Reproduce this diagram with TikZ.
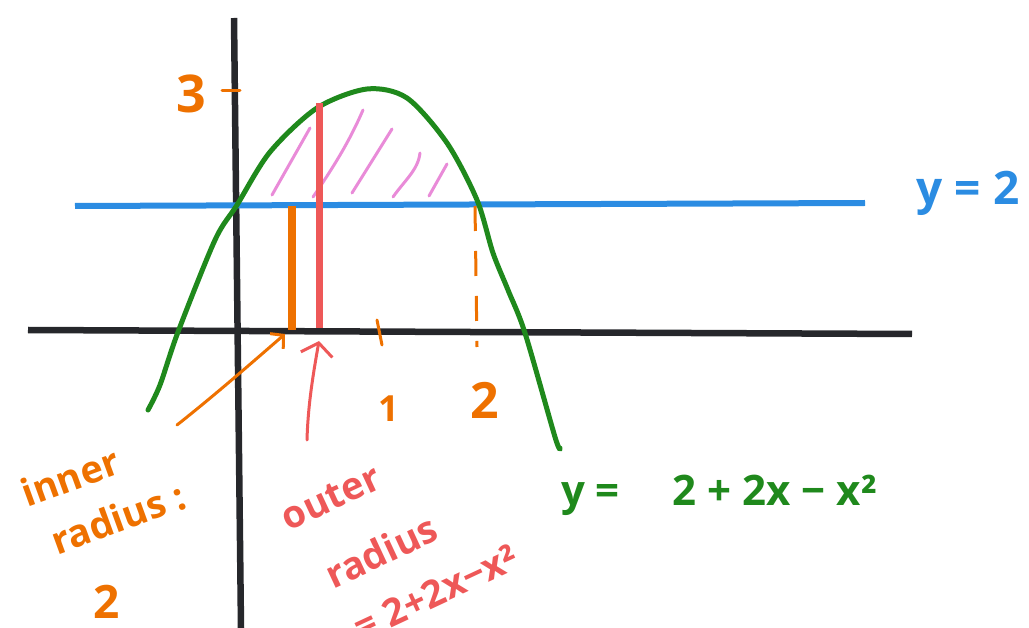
\documentclass[tikz,border=0pt]{standalone}
\usepackage{fontspec}
\setmainfont{Open Sans}
\usetikzlibrary{arrows.meta}
\definecolor{axisc}{HTML}{26272B}
\definecolor{bluec}{HTML}{2B8CE2}
\definecolor{greenc}{HTML}{1F891C}
\definecolor{orangec}{HTML}{EE7100}
\definecolor{redc}{HTML}{EE5858}
\definecolor{pinkc}{HTML}{E98BD8}
\tikzset{
  axisline/.style={draw=axisc,line width=6.5pt},
  hatchline/.style={draw=pinkc,line width=3pt,line cap=round},
  txt/.style={inner sep=0pt,font=\fontsize{38}{42}\selectfont\bfseries},
  otxt/.style={txt,text=orangec},
  rtxt/.style={txt,text=redc},
}
\begin{document}
\begin{tikzpicture}[x=1pt,y=-1pt]
\useasboundingbox (0,0) rectangle (1029,628);
% axes
\coordinate (yt) at (234,18);
\coordinate (yb) at (241,628);
\coordinate (xl) at (28,330);
\coordinate (xr) at (912,334);
\draw[axisline] (yt) -- (yb);
\draw[axisline] (xl) -- (xr);
% hatching
\draw[hatchline] (272,195) -- (310,128);
\draw[hatchline] (313,197) .. controls (335,165) and (350,140) .. (363,110);
\draw[hatchline] (352,193) -- (392,129);
\draw[hatchline] (393,197) .. controls (405,180) and (418,170) .. (420,153);
\draw[hatchline] (429,196) -- (447,164);
% line y=2
\coordinate (bl) at (75,206);
\coordinate (br) at (865,203);
\draw[draw=bluec,line width=6pt] (bl) -- (br);
% parabola
\draw[draw=greenc,line width=5pt,line cap=round] plot[smooth,tension=0.5] coordinates
 {(148,410) (160,385) (178,332) (215,240) (237,205) (270,152) (317,108) (367,89) (407,98) (447,143) (477,200) (493,253) (508,290) (525,333) (555,437) (560,448)};
% bars
\coordinate (ob1) at (292,206);
\coordinate (ob2) at (292,330);
\coordinate (rb1) at (319,103);
\coordinate (rb2) at (319,328);
\draw[draw=orangec,line width=8pt] (ob1) -- (ob2);
\draw[draw=redc,line width=7pt] (rb1) -- (rb2);
% ticks
\coordinate (t1a) at (377,320);
\coordinate (t1b) at (382,345);
\draw[draw=orangec,line width=3pt,line cap=round] (t1a) -- (t1b);
\coordinate (t3a) at (222,91);
\coordinate (t3b) at (240,91);
\draw[draw=orangec,line width=3pt,line cap=round] (t3a) -- (t3b);
\coordinate (d2a) at (475,206);
\coordinate (d2b) at (477,347);
\draw[draw=orangec,line width=3pt,dash pattern=on 25pt off 20pt] (d2a) -- (d2b);
% labels
\node[otxt,font=\fontsize{52}{56}\selectfont\bfseries] (l3) at (191,94) {3};
\node[otxt,font=\fontsize{36}{40}\selectfont\bfseries] (l1) at (389,409) {1};
\node[otxt,font=\fontsize{50}{54}\selectfont\bfseries] (l2) at (485,400) {2};
\node[txt,text=bluec,font=\fontsize{46}{50}\selectfont\bfseries] (ly2) at (968,193) {y = 2};
\node[txt,text=greenc,font=\fontsize{42}{46}\selectfont\bfseries,anchor=base west] (lpar) at (561,505) {y = \quad 2 + 2x − x²};
\node[otxt,rotate=20] (inner) at (70,477) {inner};
\node[otxt,rotate=20] (iradius) at (118,518) {radius :};
\node[otxt,font=\fontsize{46}{50}\selectfont\bfseries] (i2) at (107,602) {2};
\node[rtxt,rotate=25] (outer) at (331,498) {outer};
\node[rtxt,rotate=25] (oradius) at (381,551) {radius};
\node[rtxt,rotate=25] (oeq) at (436,592) {= 2+2x−x²};
% arrows
\coordinate (oa1) at (177,425);
\coordinate (oa2) at (285,334);
\draw[draw=orangec,line width=3pt,line cap=round,-{Straight Barb[length=9pt,width=20pt]}] (oa1) .. controls (215,395) and (255,360) .. (oa2);
\coordinate (ra1) at (307,440);
\coordinate (ra2) at (319,341);
\draw[draw=redc,line width=3pt,line cap=round,-{Straight Barb[length=12pt,width=32pt]}] (ra1) .. controls (308,405) and (313,375) .. (ra2);
\end{tikzpicture}
\end{document}
